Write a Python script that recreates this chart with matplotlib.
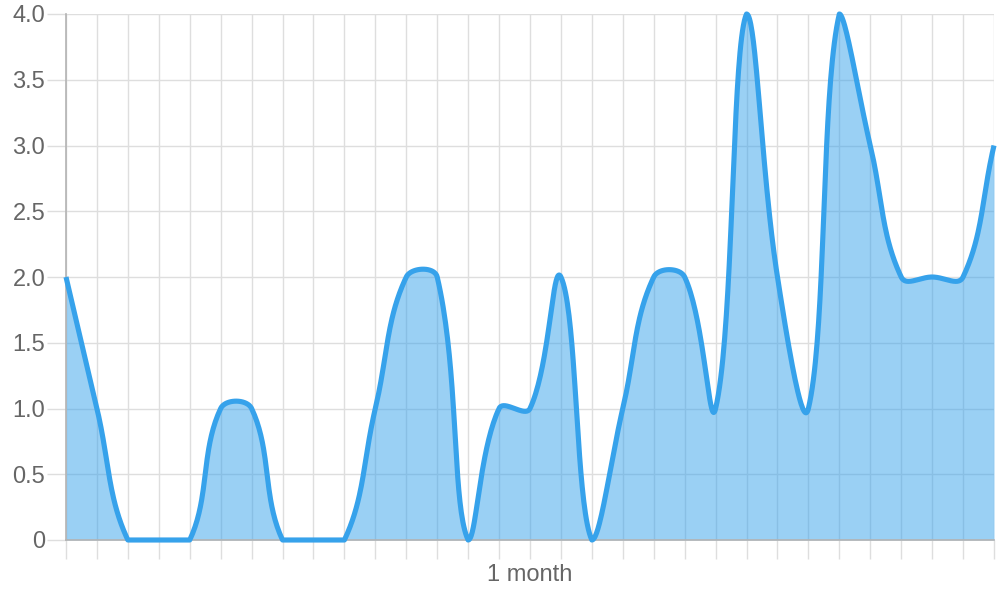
import numpy as np
import matplotlib
matplotlib.use("Agg")
import matplotlib.pyplot as plt

plt.rcParams["font.family"] = ["Liberation Sans", "DejaVu Sans"]

# ----------------------------
# Data
# ----------------------------
values = [2, 1, 0, 0, 0, 1, 1, 0, 0, 0, 1, 2, 2, 0, 1, 1,
          2, 0, 1, 2, 2, 1, 4, 2, 1, 4, 3, 2, 2, 2, 3]
x_labels = [""] * len(values)
x_labels[15] = "1 month"
y_ticks = [0, 0.5, 1.0, 1.5, 2.0, 2.5, 3.0, 3.5, 4.0]
y_labels = ["0", "0.5", "1.0", "1.5", "2.0", "2.5", "3.0", "3.5", "4.0"]

BLUE = "#36A2EB"
FILL = (54 / 255, 162 / 255, 235 / 255, 0.5)
GRID = "#dedede"
AXIS = "#b3b3b3"
TEXT = "#666666"

# ----------------------------
# Figure / axes geometry
# ----------------------------
fig = plt.figure(figsize=(10, 6), dpi=100)
ax = fig.add_axes([0.066, 0.1, 0.928, 526 / 600])

n = len(values)
x_max = n - 1
y_max = 4.0

# pixel size of one data unit (for the spline, done in screen space)
dx = 928 / x_max
dy = 526 / y_max
W = 928
H = 526


# ----------------------------
# Smooth curve (bezier with tension 0.4, control points capped)
# ----------------------------
def smooth_curve(vals, tension=0.4, steps=40):
    px = np.arange(len(vals)) * dx
    py = np.array(vals, dtype=float) * dy
    cnt = len(vals)
    c_prev = np.zeros((cnt, 2))
    c_next = np.zeros((cnt, 2))

    for i in range(cnt):
        p = max(i - 1, 0)
        q = min(i + 1, cnt - 1)
        d01 = np.hypot(px[i] - px[p], py[i] - py[p])
        d12 = np.hypot(px[q] - px[i], py[q] - py[i])
        tot = d01 + d12
        s01 = d01 / tot if tot else 0
        s12 = d12 / tot if tot else 0
        fa = tension * s01
        fb = tension * s12
        c_prev[i] = [px[i] - fa * (px[q] - px[p]), py[i] - fa * (py[q] - py[p])]
        c_next[i] = [px[i] + fb * (px[q] - px[p]), py[i] + fb * (py[q] - py[p])]

    c_prev[:, 0] = np.clip(c_prev[:, 0], 0, W)
    c_next[:, 0] = np.clip(c_next[:, 0], 0, W)
    c_prev[:, 1] = np.clip(c_prev[:, 1], 0, H)
    c_next[:, 1] = np.clip(c_next[:, 1], 0, H)

    xs, ys = [], []
    t = np.linspace(0, 1, steps)
    for i in range(cnt - 1):
        p0 = np.array([px[i], py[i]])
        p1 = c_next[i]
        p2 = c_prev[i + 1]
        p3 = np.array([px[i + 1], py[i + 1]])
        seg = ((1 - t) ** 3)[:, None] * p0 + (3 * (1 - t) ** 2 * t)[:, None] * p1 \
            + (3 * (1 - t) * t ** 2)[:, None] * p2 + (t ** 3)[:, None] * p3
        xs.append(seg[:, 0])
        ys.append(seg[:, 1])

    return np.concatenate(xs) / dx, np.concatenate(ys) / dy


cx, cy = smooth_curve(values)

# ----------------------------
# Plot
# ----------------------------
ax.fill_between(cx, cy, 0, color=FILL, linewidth=0, zorder=2)
ax.plot(cx, cy, color=BLUE, linewidth=3.7, solid_joinstyle="round",
        solid_capstyle="butt", zorder=3, clip_on=False)

ax.set_xlim(0, x_max)
ax.set_ylim(0, y_max)

ax.set_xticks(np.arange(n))
ax.set_xticklabels(x_labels)
ax.set_yticks(y_ticks)
ax.set_yticklabels(y_labels)

ax.set_axisbelow(True)
ax.grid(True, color=GRID, linewidth=1)

for side in ("top", "right"):
    ax.spines[side].set_visible(False)
for side in ("left", "bottom"):
    ax.spines[side].set_color(AXIS)
    ax.spines[side].set_linewidth(1.2)

ax.tick_params(axis="both", length=14, width=1, color=GRID,
               labelsize=17, labelcolor=TEXT)
ax.tick_params(axis="y", pad=1)
ax.tick_params(axis="x", pad=3)

fig.savefig("out.png", dpi=100)
plt.close(fig)
